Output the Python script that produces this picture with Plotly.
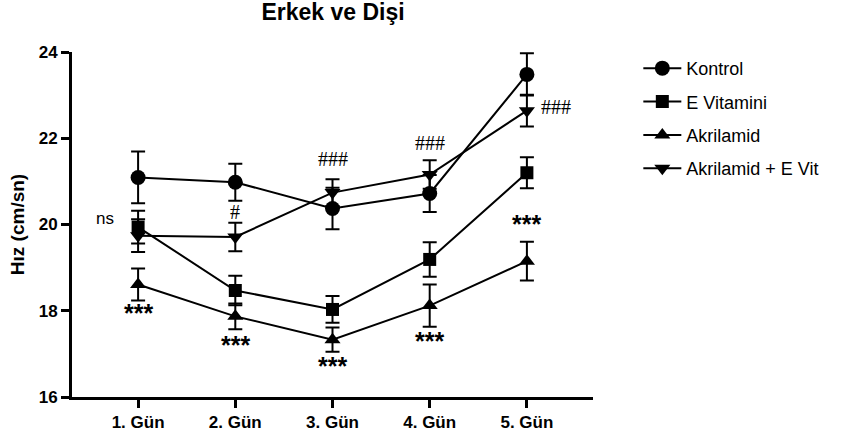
import plotly.graph_objects as go

days = ["1. Gün", "2. Gün", "3. Gün", "4. Gün", "5. Gün"]
x_pos = [1, 2, 3, 4, 5]

kontrol = [21.09, 20.98, 20.37, 20.72, 23.48]
kontrol_err = [0.60, 0.43, 0.48, 0.43, 0.49]
evit = [19.94, 18.47, 18.03, 19.19, 21.20]
evit_err = [0.38, 0.34, 0.31, 0.40, 0.36]
akr = [18.61, 17.87, 17.33, 18.12, 19.15]
akr_err = [0.37, 0.30, 0.28, 0.49, 0.45]
akr_evit = [19.74, 19.71, 20.74, 21.16, 22.64]
akr_evit_err = [0.38, 0.33, 0.31, 0.33, 0.37]

series = [
    ("Kontrol", kontrol, kontrol_err, "circle", 15),
    ("E Vitamini", evit, evit_err, "square", 13),
    ("Akrilamid", akr, akr_err, "triangle-up", 14),
    ("Akrilamid + E Vit", akr_evit, akr_evit_err, "triangle-down", 14),
]

# significance labels: (x, y, text, style)
sig_labels = [
    (0.66, 20.14, "ns", "ns"),
    (1, 18.03, "***", "star"),
    (2, 17.29, "***", "star"),
    (3, 16.82, "***", "star"),
    (4, 17.40, "***", "star"),
    (5, 20.10, "***", "star"),
    (2, 20.28, "#", "hash"),
    (3, 21.51, "###", "hash"),
    (4, 21.90, "###", "hash"),
    (5.30, 22.72, "###", "hash"),
]

SANS = "Liberation Sans, Arial"
SERIF = "Liberation Serif, Times New Roman"

fig = go.Figure()
for name, vals, errs, sym, size in series:
    fig.add_trace(go.Scatter(
        x=x_pos, y=vals, name=name, mode="lines+markers", legendgroup=name,
        line=dict(color="black", width=2),
        marker=dict(symbol=sym, size=size, color="black"),
        error_y=dict(type="data", array=errs, visible=True,
                     color="black", thickness=2, width=7),
    ))

annotations = []
for xv, yv, txt, style in sig_labels:
    if style == "star":
        f = dict(family=SANS, size=25, color="black")
        t = "<b>" + txt + "</b>"
        ys = -4
    elif style == "hash":
        f = dict(family=SERIF, size=20, color="black")
        t = txt
        ys = 0
    else:
        f = dict(family=SANS, size=17, color="black")
        t = txt
        ys = 0
    annotations.append(dict(x=xv, y=yv, text=t, showarrow=False, font=f,
                            xref="x", yref="y", yshift=ys))

fig.update_layout(
    width=846, height=441,
    paper_bgcolor="white", plot_bgcolor="white",
    margin=dict(l=72, r=253, t=52, b=44),
    font=dict(family=SANS, color="black"),
    title=dict(text="<b>Erkek ve Dişi</b>", x=333 / 846, xanchor="center",
               y=1 - 12 / 441, yanchor="middle",
               font=dict(size=23, family=SANS, color="black")),
    showlegend=True,
    legend=dict(x=1.087, y=1.006, xanchor="left", yanchor="top",
                font=dict(size=18, family=SANS, color="black"),
                bgcolor="rgba(0,0,0,0)", tracegroupgap=7, itemwidth=38,
                traceorder="grouped"),
    annotations=annotations,
)
fig.update_xaxes(
    range=[0.32, 5.68], tickvals=x_pos, ticktext=["<b>%s</b>" % d for d in days],
    showline=True, linecolor="black", linewidth=3,
    ticks="outside", ticklen=8, tickwidth=3, tickcolor="black",
    showgrid=False, zeroline=False, automargin=False,
    tickfont=dict(size=17, family=SANS, color="black"),
)
fig.update_yaxes(
    range=[16, 24], tickvals=[16, 18, 20, 22, 24],
    ticktext=["<b>%d</b>" % v for v in [16, 18, 20, 22, 24]],
    showline=True, linecolor="black", linewidth=3,
    ticks="outside", ticklen=8, tickwidth=3, tickcolor="black",
    showgrid=False, zeroline=False, automargin=False,
    title=dict(text="<b>Hız (cm/sn)</b>", standoff=10,
               font=dict(size=19, family=SANS, color="black")),
    tickfont=dict(size=17, family=SANS, color="black"),
)

fig.write_html("out.html", config={"displayModeBar": False},
               post_script="document.body.style.margin='0';")
